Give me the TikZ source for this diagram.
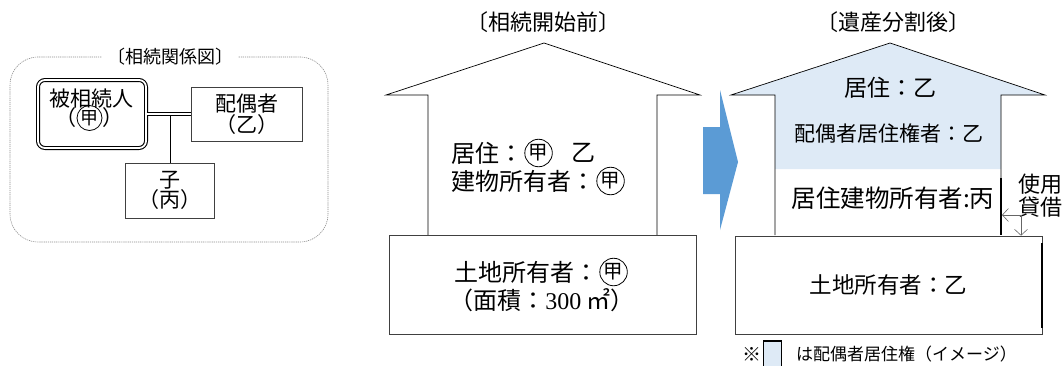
\documentclass[tikz,border=0pt]{standalone}
\usepackage{fontspec}
\setmainfont{Noto Sans CJK JP}
\newfontfamily\latn{Liberation Serif}
\usetikzlibrary{arrows.meta}
\definecolor{arrowblue}{HTML}{5B9BD5}
\definecolor{lightblue}{HTML}{DEEAF6}
\newcommand\fs[2]{\fontsize{#1}{#2}\selectfont}
\begin{document}
\begin{tikzpicture}[x=1pt,y=-1pt,
  box/.style={draw=black!75, line width=0.6pt, align=center, inner sep=0pt},
  house/.style={draw=black, line width=0.7pt, line join=miter},
  lbl/.style={inner sep=0pt, align=center},
  maru/.style={circle, draw=black, line width=0.8pt, inner sep=0pt, minimum size=27.5pt, font=\fs{19.5}{19.5}},
  frame/.style={draw=black!45, line width=0.6pt, dash pattern=on 1.2pt off 0.9pt},
  barb/.style={draw=black!60, line width=0.6pt, -{Straight Barb[length=6pt,width=13pt]}}
]
\useasboundingbox (0,0) rectangle (1064,365);

% ---------- left: relation diagram ----------
\draw[frame, rounded corners=28pt] (10,57) rectangle (328,242);
\node[lbl, fill=white, inner xsep=5pt, font=\fs{18}{18}] (t0) at (170,57) {〔相続関係図〕};

\node[draw=black, line width=1.1pt, double=white, double distance=1.8pt,
      rounded corners=7pt, minimum width=108pt, minimum height=68pt,
      inner sep=0pt] (bh) at (92,114) {};
\node[lbl, font=\fs{21}{21}] (bt) at (91,99) {被相続人};
\node[maru, minimum size=25pt, font=\fs{18}{18}] (bm) at (89.5,118) {甲};
\node[lbl, anchor=east, font=\fs{21}{21}] (bpl) at (bm.west) {（};
\node[lbl, anchor=west, font=\fs{21}{21}] (bpr) at (bm.east) {）};

\node[box, minimum width=111pt, minimum height=54pt, font=\fs{21}{19}] (hs) at (246.5,114)
      {配偶者\\（乙）};
\node[box, minimum width=89pt, minimum height=55pt, font=\fs{21}{18}] (ko) at (170,190.5)
      {子\\（丙）};
\draw[line width=0.6pt, double=white, double distance=2.4pt] (bh.east) -- (hs.west);
\draw[line width=0.7pt] (ko.north) -- ([yshift=-1.7pt]ko.north |- hs.west);

% ---------- middle: before ----------
\node[lbl, font=\fs{22}{22}] (t1) at (543,22) {〔相続開始前〕};
\draw[house] (428,235) -- (428,95) -- (386,95) -- (544,43) -- (700,95) -- (657,95) -- (657,235);

\node[lbl, anchor=west, font=\fs{24}{24}] (a1) at (451,153) {居住：};
\node[maru, anchor=west] (m1) at ([xshift=1pt]a1.east) {甲};
\node[lbl, anchor=west, font=\fs{24}{24}] (a2) at ([xshift=19pt]m1.east) {乙};
\node[lbl, anchor=west, font=\fs{24}{24}] (a3) at (451,181) {建物所有者：};
\node[maru, anchor=west] (m2) at ([xshift=1pt]a3.east) {甲};

\node[box, minimum width=307pt, minimum height=99pt] (land1) at (542.5,284.5) {};
\node[lbl, anchor=west, font=\fs{24}{24}] (l1) at (454,272) {土地所有者：};
\node[maru, anchor=west] (m3) at ([xshift=1pt]l1.east) {甲};
\node[lbl, font=\fs{24}{24}] (l2) at (542,300) {（面積：{\latn 300} ㎡）};

% ---------- arrow ----------
\fill[arrowblue] (703,127) -- (720,127) -- (720,90) -- (738,162) -- (720,230) -- (720,194) -- (703,194) -- cycle;

% ---------- right: after ----------
\node[lbl, font=\fs{22}{22}] (t2) at (893,22) {〔遺産分割後〕};
\fill[lightblue] (731,95) -- (890,43) -- (1045,95) -- (1001,95) -- (1001,169) -- (775,169) -- (775,95) -- cycle;
\draw[house] (775,235) -- (775,95) -- (731,95) -- (890,43) -- (1045,95) -- (1001,95) -- (1001,178);
\draw[line width=1.6pt] (1001,178) -- (1001,235);
\node[box, minimum width=307pt, minimum height=98pt, font=\fs{22.5}{22.5}] (land2) at (888.5,285)
      {土地所有者：乙};
\draw[line width=1.8pt] (1042,243) -- (1042,328);
\node[lbl, font=\fs{23}{23}] (r1) at (890,88) {居住：乙};
\node[lbl, font=\fs{21}{21}] (r2) at (889,133) {配偶者居住権者：乙};
\node[lbl, font=\fs{24.5}{24.5}] (r3) at (893,198) {居住建物所有者:丙};
\node[lbl, font=\fs{22}{23}] (use) at (1040,196) {使用\\貸借};
\coordinate (j) at (1021,215);
\coordinate (wr) at (1002,215);
\draw[barb] (j) -- (wr);
\draw[barb] (j) -- (j |- land2.north);

% ---------- legend ----------
\node[lbl, font=\fs{19}{19}] (kome) at (752,354) {※};
\node[draw=black, line width=1.5pt, fill=lightblue, minimum width=18pt, minimum height=28pt, inner sep=0pt] (legbox) at (772.5,355) {};
\node[lbl, anchor=west, font=\fs{17}{17}] (legtxt) at (796,354) {は配偶者居住権（イメージ）};
\end{tikzpicture}
\end{document}
